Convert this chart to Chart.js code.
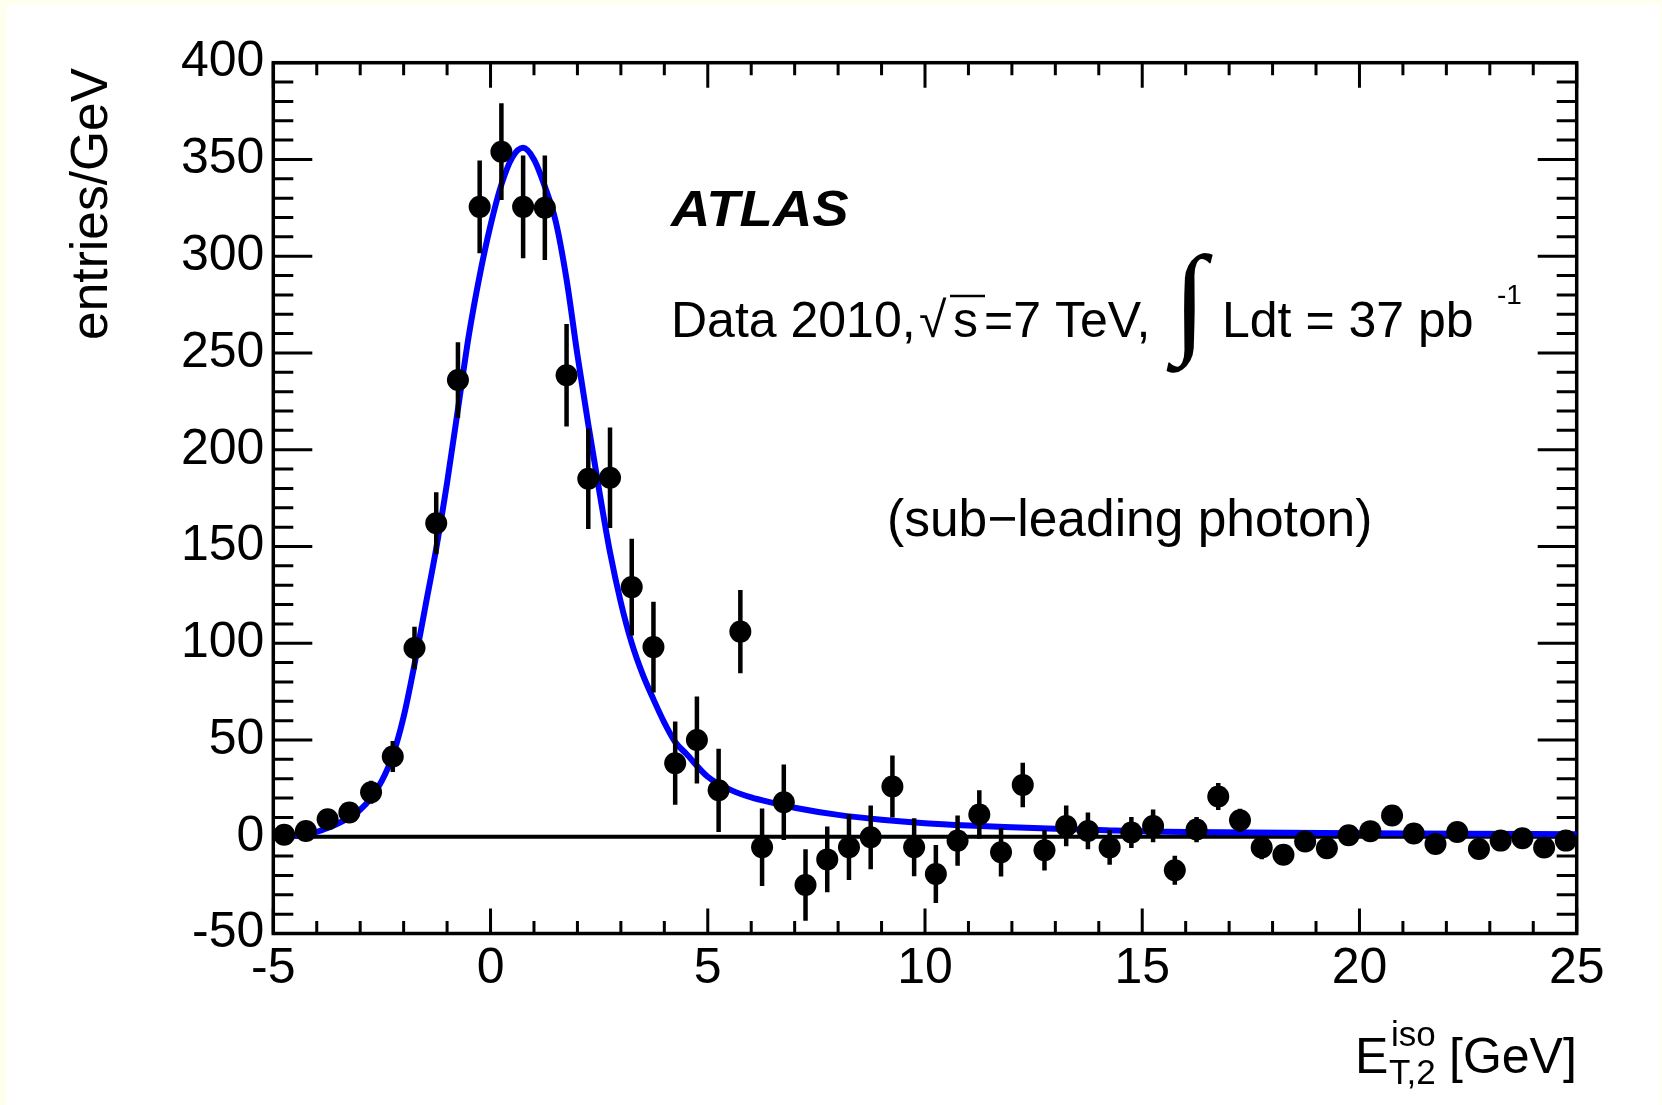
<!DOCTYPE html>
<html lang="en">
<head>
  <meta charset="UTF-8">
  <title>Isolation energy, sub-leading photon</title>
  <script src="https://cdn.jsdelivr.net/npm/chart.js"></script>
  <style>
    html, body { margin: 0; padding: 0; background: #fffff0; }
    canvas { display: block; }
  </style>
</head>
<body>
  <canvas id="chart" width="1662" height="1105"></canvas>

  <script>
    // bin centres [GeV] (0.5 GeV bins)
    const binCenters = [
      -4.75, -4.25, -3.75, -3.25, -2.75, -2.25, -1.75, -1.25, -0.75, -0.25,
      0.25, 0.75, 1.25, 1.75, 2.25, 2.75, 3.25, 3.75, 4.25, 4.75,
      5.25, 5.75, 6.25, 6.75, 7.25, 7.75, 8.25, 8.75, 9.25, 9.75,
      10.25, 10.75, 11.25, 11.75, 12.25, 12.75, 13.25, 13.75, 14.25, 14.75,
      15.25, 15.75, 16.25, 16.75, 17.25, 17.75, 18.25, 18.75, 19.25, 19.75,
      20.25, 20.75, 21.25, 21.75, 22.25, 22.75, 23.25, 23.75, 24.25, 24.75
    ];
    // entries/GeV
    const entries = [
      1, 3, 9, 12.5, 23, 41.5, 97.5, 162, 236, 325.5,
      354, 325.5, 325, 238.5, 185, 185.5, 129, 98, 38, 50,
      24, 106, -5.4, 17.8, -24.9, -11.7, -5.4, -0.3, 26, -5.4,
      -19.3, -2, 11.5, -8, 26.8, -7, 5.6, 3, -5.5, 2.2,
      5.6, -17.3, 3.7, 20.8, 8.5, -5.6, -9.3, -2.5, -5.9, 0.8,
      2.9, 11, 1.7, -3.7, 2.5, -6.3, -2, -0.8, -5.6, -2
    ];
    // symmetric statistical errors
    const errors = [
      2, 2.5, 3.5, 4, 6, 8, 11, 16, 19.5, 24,
      25, 26.5, 27, 26.5, 26, 26, 25, 23.5, 21.5, 22.5,
      21.5, 21.5, 20, 19.5, 18.5, 17, 17, 16.5, 16, 15,
      15, 13, 12.5, 12.5, 11.5, 10.5, 10.5, 9.5, 9, 8,
      8.5, 7.5, 6.5, 7, 6, 6, 4, 5, 4, 4,
      4, 4, 4, 4, 4, 3, 3, 3, 3, 3
    ];

    // fit function
    const fitX = [
      -4.5, -4.25, -4.0, -3.75, -3.5, -3.25, -3.0, -2.75, -2.5, -2.25,
      -2.0, -1.75, -1.5, -1.25, -1.0, -0.75, -0.5, -0.25, 0.0, 0.25,
      0.5, 0.75, 1.0, 1.25, 1.5, 1.75, 2.0, 2.25, 2.5, 2.75,
      3.0, 3.25, 3.5, 3.75, 4.0, 4.25, 4.5, 5.0, 5.5, 6.0,
      6.5, 7.0, 8.0, 9.0, 10.0, 11.0, 12.0, 13.0, 14.0, 15.0,
      17.5, 20.0, 22.5, 25.0
    ];
    const fitY = [
      0.5, 1.5, 2.5, 4.5, 7, 10, 14, 20, 29, 42,
      62, 89, 119, 149, 183, 221, 259, 290, 316, 337,
      351, 356, 350, 336, 318, 288, 249, 213, 179, 147,
      121, 100, 84, 71, 59, 49, 43, 31, 24.5, 20.3,
      17.5, 15, 11.3, 8.8, 7, 5.8, 4.9, 4.1, 3.5, 2.8,
      2.2, 1.8, 1.5, 1.3
    ];

    const xTicks = [-5, 0, 5, 10, 15, 20, 25];
    const yTicks = [-50, 0, 50, 100, 150, 200, 250, 300, 350, 400];

    const FONT = '"Liberation Sans", Arial, Helvetica, sans-serif';

    const points = binCenters.map((x, i) => ({ x: x, y: entries[i] }));
    const fitPoints = fitX.map((x, i) => ({ x: x, y: fitY[i] }));

    // ROOT-like frame, inward ticks, error bars and labels
    const rootStyle = {
      id: 'rootStyle',
      beforeDraw(chart) {
        const ctx = chart.ctx;
        ctx.save();
        ctx.fillStyle = '#fffff0';
        ctx.fillRect(0, 0, chart.width, chart.height);
        ctx.fillStyle = '#ffffff';
        ctx.fillRect(7, 5, chart.width - 9, chart.height - 5);
        ctx.restore();
      },
      beforeDatasetsDraw(chart) {
        const ctx = chart.ctx;
        const a = chart.chartArea;
        const xs = chart.scales.x, ys = chart.scales.y;
        ctx.save();
        ctx.strokeStyle = '#000';
        ctx.lineWidth = 3.5;
        ctx.strokeRect(a.left, a.top, a.right - a.left, a.bottom - a.top);

        ctx.lineWidth = 3;
        ctx.beginPath();
        // x ticks (bottom and top), minor every 1
        for (let v = xs.min; v <= xs.max; v += 1) {
          const px = xs.getPixelForValue(v);
          const len = xTicks.includes(v) ? 25 : 12.5;
          ctx.moveTo(px, a.bottom); ctx.lineTo(px, a.bottom - len);
          ctx.moveTo(px, a.top); ctx.lineTo(px, a.top + len);
        }
        // y ticks (left and right), minor every 10
        for (let v = ys.min; v <= ys.max; v += 10) {
          const py = ys.getPixelForValue(v);
          const len = yTicks.includes(v) ? 39 : 20;
          ctx.moveTo(a.left, py); ctx.lineTo(a.left + len, py);
          ctx.moveTo(a.right, py); ctx.lineTo(a.right - len, py);
        }
        ctx.stroke();

        // zero line
        const y0 = ys.getPixelForValue(0);
        ctx.lineWidth = 4;
        ctx.beginPath();
        ctx.moveTo(a.left, y0);
        ctx.lineTo(a.right, y0);
        ctx.stroke();
        ctx.restore();
      },
      afterDatasetDraw(chart, args) {
        if (args.index !== 1) return;
        const ctx = chart.ctx;
        const xs = chart.scales.x, ys = chart.scales.y;
        ctx.save();
        ctx.strokeStyle = '#000';
        ctx.lineWidth = 4.5;
        ctx.beginPath();
        binCenters.forEach((x, i) => {
          const px = xs.getPixelForValue(x);
          ctx.moveTo(px, ys.getPixelForValue(entries[i] + errors[i]));
          ctx.lineTo(px, ys.getPixelForValue(entries[i] - errors[i]));
        });
        ctx.stroke();
        ctx.restore();
      },
      afterDraw(chart) {
        const ctx = chart.ctx;
        ctx.save();
        ctx.fillStyle = '#000';
        ctx.strokeStyle = '#000';
        ctx.textAlign = 'left';
        ctx.textBaseline = 'alphabetic';

        ctx.save();
        ctx.font = 'italic bold 50px ' + FONT;
        ctx.translate(671, 226);
        ctx.scale(1.09, 1);
        ctx.fillText('ATLAS', 0, 0);
        ctx.restore();

        ctx.font = '50px ' + FONT;
        ctx.fillText('Data 2010,', 671, 337);
        ctx.fillText('\u221A', 919, 337);
        ctx.fillText('s', 953, 337);
        ctx.fillText('=7 TeV,', 984, 337);
        ctx.fillText('Ldt = 37 pb', 1222, 337);
        ctx.lineWidth = 2.5;
        ctx.beginPath();
        ctx.moveTo(950, 296);
        ctx.lineTo(985, 296);
        ctx.stroke();

        ctx.font = '200 122px "DejaVu Sans"';
        ctx.fillText('\u222B', 1173, 340);

        ctx.font = '28px ' + FONT;
        ctx.fillText('-1', 1497, 304);

        ctx.font = '51.5px ' + FONT;
        ctx.fillText('(sub\u2212leading photon)', 887, 536);

        // x axis title
        ctx.font = '50px ' + FONT;
        ctx.fillText('E', 1355, 1073);
        ctx.fillText('[GeV]', 1449, 1073);
        ctx.font = '35px ' + FONT;
        ctx.fillText('iso', 1391, 1046);
        ctx.fillText('T,2', 1389, 1084);

        // y axis title
        ctx.font = '51.5px ' + FONT;
        ctx.translate(107, 68);
        ctx.rotate(-Math.PI / 2);
        ctx.textAlign = 'right';
        ctx.fillText('entries/GeV', 0, 0);
        ctx.restore();
      }
    };

    new Chart(document.getElementById('chart').getContext('2d'), {
      type: 'line',
      data: {
        datasets: [
          {
            label: 'data',
            data: points,
            showLine: false,
            pointRadius: 11,
            pointHoverRadius: 11,
            pointBackgroundColor: '#000',
            pointBorderWidth: 0,
            borderColor: '#000'
          },
          {
            label: 'fit',
            data: fitPoints,
            borderColor: '#0000ff',
            borderWidth: 6,
            pointRadius: 0,
            fill: false,
            cubicInterpolationMode: 'monotone'
          }
        ]
      },
      options: {
        responsive: false,
        animation: false,
        devicePixelRatio: 1,
        layout: { padding: { left: 0, top: 62.7, right: 85.3, bottom: 0 } },
        plugins: {
          legend: { display: false },
          tooltip: { enabled: false }
        },
        scales: {
          x: {
            type: 'linear',
            min: -5,
            max: 25,
            grid: { display: false, drawTicks: false },
            border: { display: false },
            ticks: {
              stepSize: 5,
              padding: 6,
              maxRotation: 0,
              color: '#000',
              font: { family: FONT, size: 50 }
            },
            afterFit(scale) { scale.height = 171.5; }
          },
          y: {
            type: 'linear',
            min: -50,
            max: 400,
            grid: { display: false, drawTicks: false },
            border: { display: false },
            ticks: {
              stepSize: 50,
              padding: 9,
              color: '#000',
              font: { family: FONT, size: 50 }
            },
            afterFit(scale) { scale.width = 273.3; }
          }
        }
      },
      plugins: [rootStyle]
    });
  </script>
</body>
</html>
